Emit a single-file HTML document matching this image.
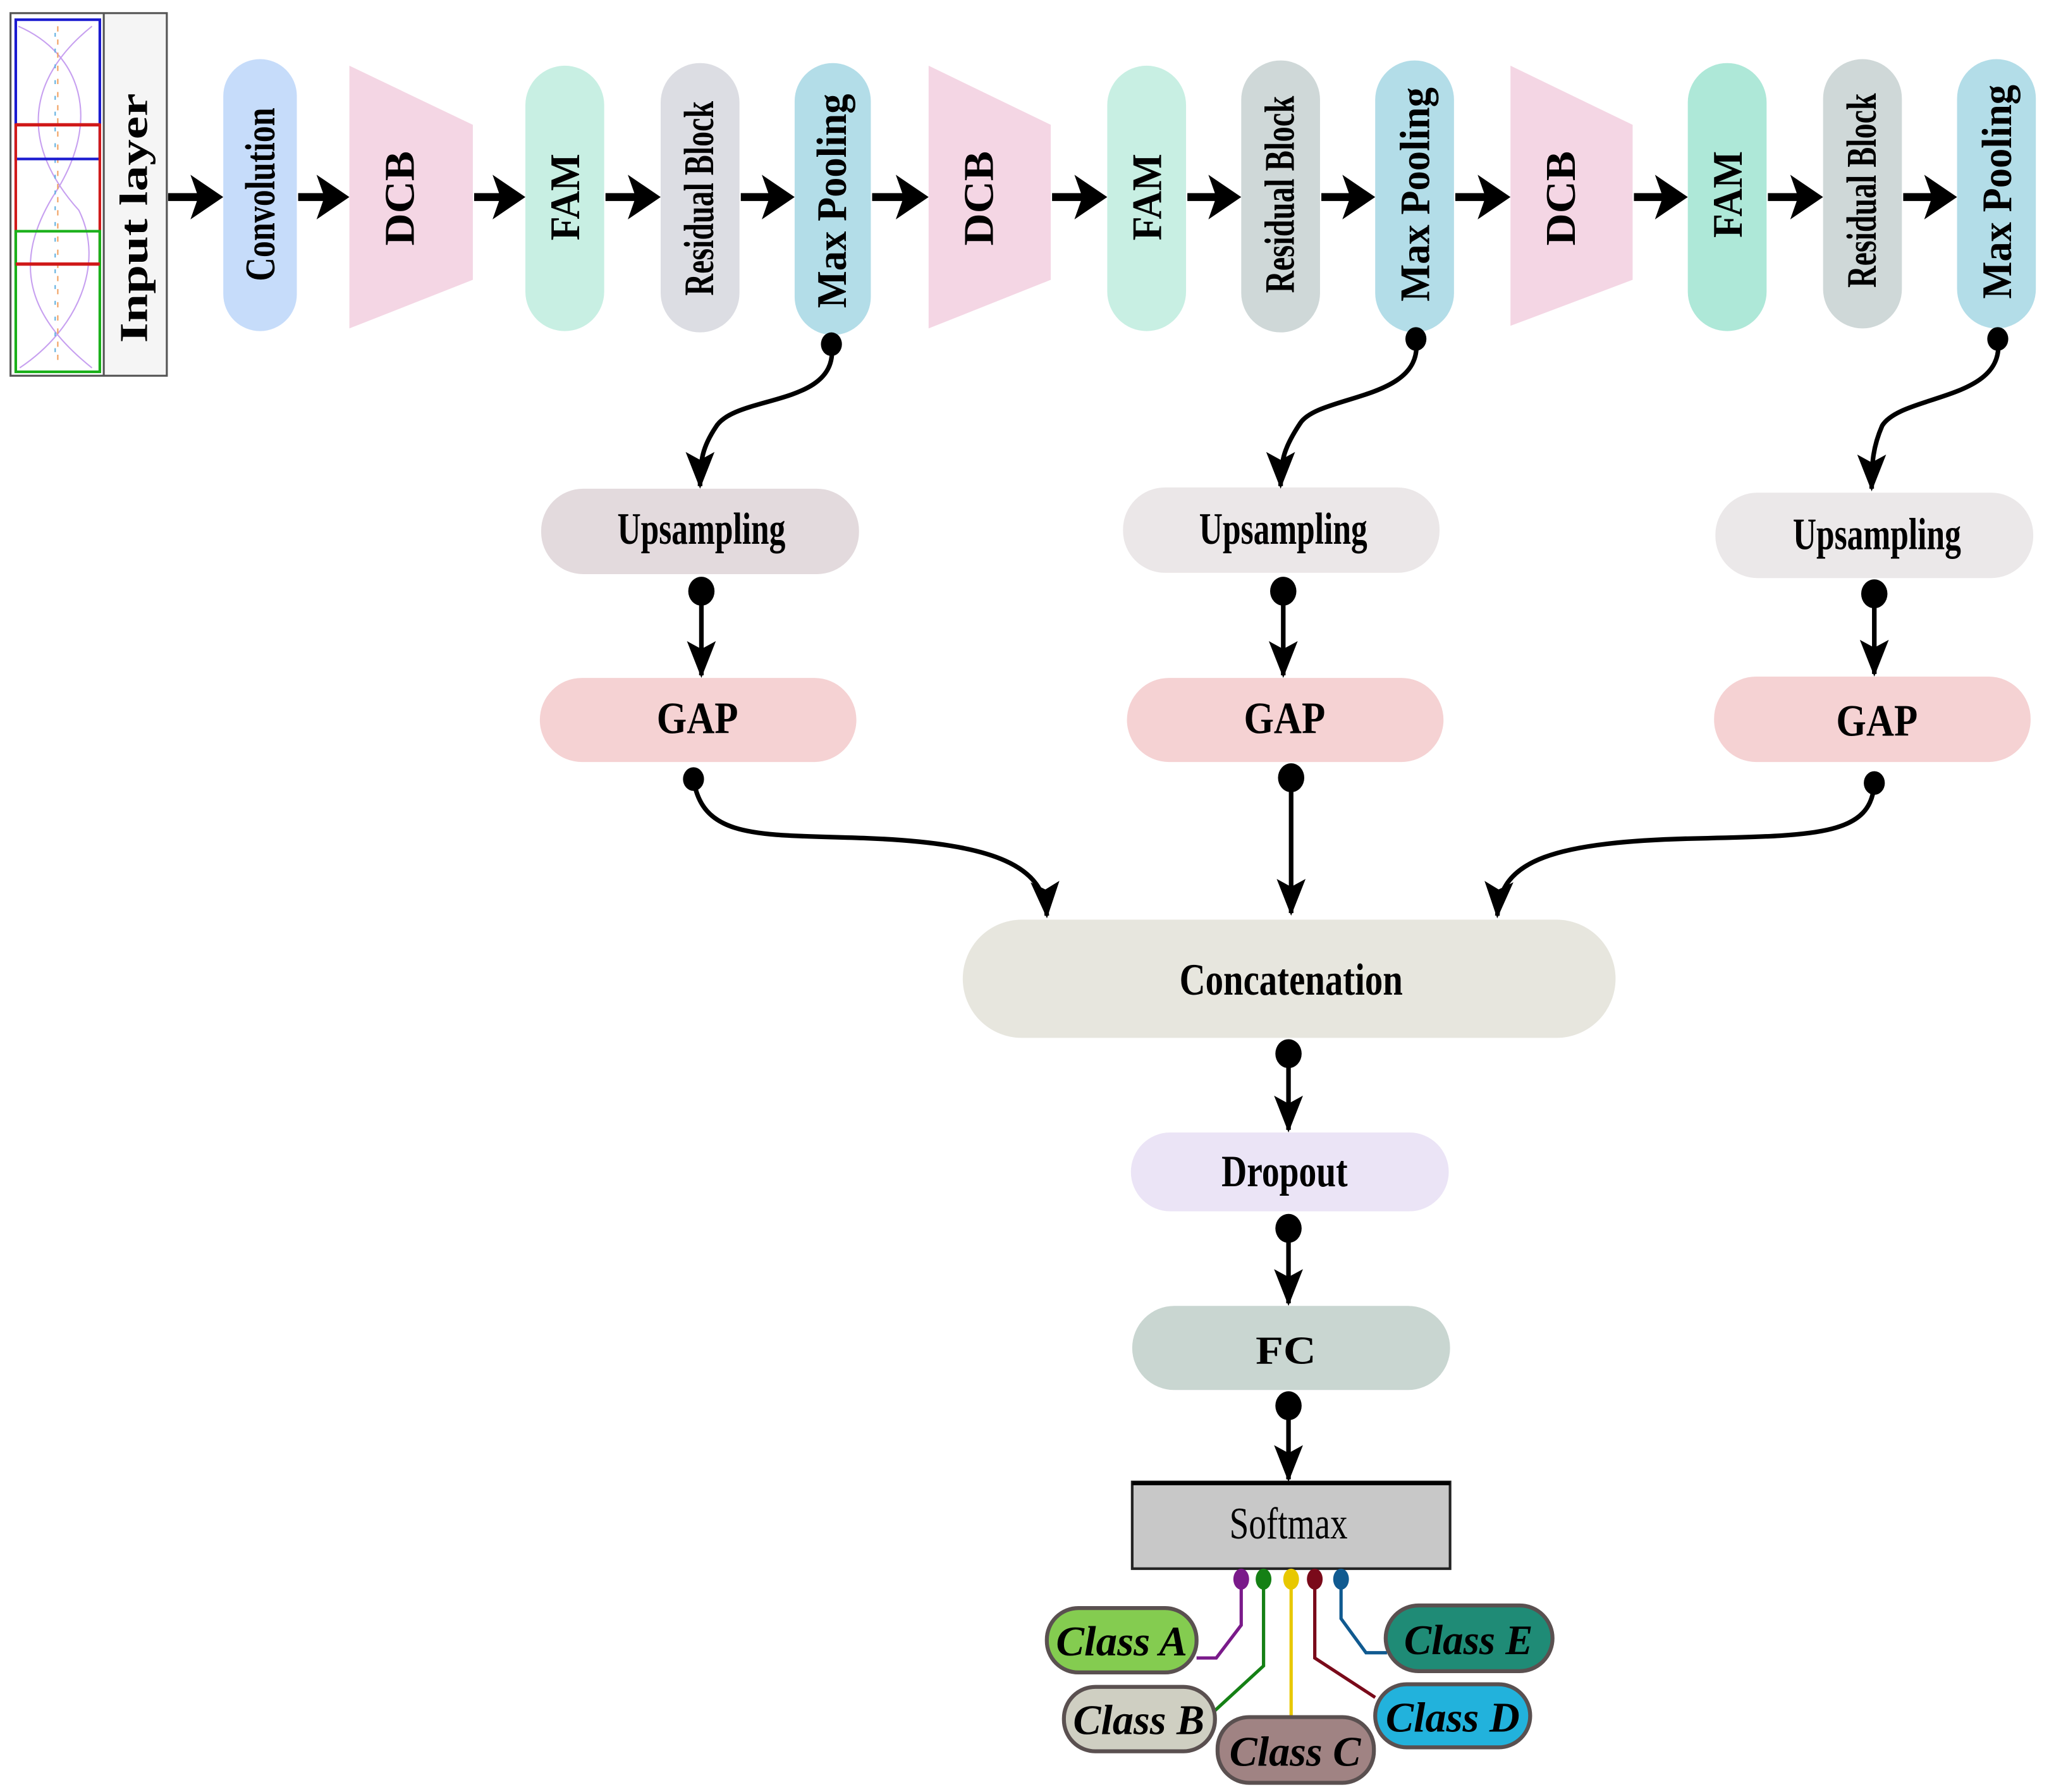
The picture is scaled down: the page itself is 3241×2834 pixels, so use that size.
<!DOCTYPE html>
<html><head><meta charset="utf-8"><style>html,body{margin:0;padding:0;background:#fff}svg{display:block}</style></head>
<body>
<svg width="3241" height="2834" viewBox="0 0 1560 1364" preserveAspectRatio="none" xmlns="http://www.w3.org/2000/svg" font-family="Liberation Serif, serif">
<defs>
<marker id="ah" markerUnits="userSpaceOnUse" markerWidth="30" markerHeight="30" viewBox="0 0 30 30" refX="28" refY="15" orient="auto">
<polygon points="30,15 2,4 8,15 2,26" fill="#000"/>
</marker>
</defs>
<rect width="1560" height="1364" fill="#fff"/>

<!-- Input layer -->
<rect x="8" y="10" width="119" height="276" fill="#f5f5f5" stroke="#555" stroke-width="1.5"/>
<rect x="9" y="11" width="70" height="274" fill="#fff"/>
<line x1="79" y1="10" x2="79" y2="286" stroke="#555" stroke-width="1.5"/>
<path d="M14,20 C60,40 80,90 40,150 C10,200 20,240 70,280" fill="none" stroke="#c7a0f0" stroke-width="1"/>
<path d="M70,20 C20,60 15,110 60,160 C80,200 60,250 15,280" fill="none" stroke="#c7a0f0" stroke-width="1"/>
<line x1="44" y1="20" x2="44" y2="280" stroke="#f0a060" stroke-width="1" stroke-dasharray="4,6"/>
<line x1="42" y1="25" x2="42" y2="275" stroke="#60b0e0" stroke-width="1" stroke-dasharray="3,9"/>
<rect x="12" y="15" width="64" height="106" fill="none" stroke="#1a1ad0" stroke-width="2"/>
<rect x="12" y="95" width="64" height="106" fill="none" stroke="#d01a1a" stroke-width="2"/>
<rect x="12" y="176" width="64" height="107" fill="none" stroke="#1ab01a" stroke-width="2"/>
<line x1="12" y1="95" x2="76" y2="95" stroke="#d01a1a" stroke-width="2.5"/>
<line x1="12" y1="201" x2="76" y2="201" stroke="#d01a1a" stroke-width="2.5"/>
<text transform="translate(112,166) rotate(-90)" font-size="30" font-weight="bold" text-anchor="middle" textLength="190" lengthAdjust="spacingAndGlyphs">Input layer</text>

<!-- top row shapes -->
<g>
<rect x="170" y="45" width="56" height="207" rx="28" fill="#c6dcfa"/>
<polygon points="266,50 360,95 360,213 266,250" fill="#f4d6e4"/>
<rect x="400" y="50" width="60" height="202" rx="30" fill="#c8efe3"/>
<rect x="503" y="48" width="60" height="205" rx="30" fill="#dcdde3"/>
<rect x="605" y="48" width="58" height="207" rx="29" fill="#b3dde8"/>
<polygon points="707,50 800,95 800,213 707,250" fill="#f4d6e4"/>
<rect x="843" y="50" width="60" height="202" rx="30" fill="#c8efe3"/>
<rect x="945" y="46" width="60" height="207" rx="30" fill="#cfd8d8"/>
<rect x="1047" y="46" width="60" height="207" rx="30" fill="#b3dde8"/>
<polygon points="1150,50 1243,95 1243,213 1150,248" fill="#f4d6e4"/>
<rect x="1285" y="48" width="60" height="204" rx="30" fill="#aee8d8"/>
<rect x="1388" y="45" width="60" height="205" rx="30" fill="#cfd8d8"/>
<rect x="1490" y="45" width="60" height="205" rx="30" fill="#b3dde8"/>
</g>
<g font-weight="bold" font-size="32" text-anchor="middle">
<text transform="translate(209,148) rotate(-90)" textLength="132" lengthAdjust="spacingAndGlyphs">Convolution</text>
<text transform="translate(315,151) rotate(-90)" textLength="72" lengthAdjust="spacingAndGlyphs">DCB</text>
<text transform="translate(441,150) rotate(-90)" textLength="66" lengthAdjust="spacingAndGlyphs">FAM</text>
<text transform="translate(543,151) rotate(-90)" textLength="148" lengthAdjust="spacingAndGlyphs">Residual Block</text>
<text transform="translate(644,153) rotate(-90)" textLength="163" lengthAdjust="spacingAndGlyphs">Max Pooling</text>
<text transform="translate(756,151) rotate(-90)" textLength="72" lengthAdjust="spacingAndGlyphs">DCB</text>
<text transform="translate(884,150) rotate(-90)" textLength="66" lengthAdjust="spacingAndGlyphs">FAM</text>
<text transform="translate(985,148) rotate(-90)" textLength="150" lengthAdjust="spacingAndGlyphs">Residual Block</text>
<text transform="translate(1088,148) rotate(-90)" textLength="163" lengthAdjust="spacingAndGlyphs">Max Pooling</text>
<text transform="translate(1199,151) rotate(-90)" textLength="72" lengthAdjust="spacingAndGlyphs">DCB</text>
<text transform="translate(1326,148) rotate(-90)" textLength="66" lengthAdjust="spacingAndGlyphs">FAM</text>
<text transform="translate(1428,145) rotate(-90)" textLength="148" lengthAdjust="spacingAndGlyphs">Residual Block</text>
<text transform="translate(1531,146) rotate(-90)" textLength="163" lengthAdjust="spacingAndGlyphs">Max Pooling</text>
</g>

<!-- top arrows -->
<g fill="#000">
<rect x="128" y="147" width="26" height="6"/><polygon points="170,150 145,133 151,150 145,167"/>
<rect x="227" y="147" width="24" height="6"/><polygon points="266,150 241,133 247,150 241,167"/>
<rect x="361" y="147" width="24" height="6"/><polygon points="400,150 375,133 381,150 375,167"/>
<rect x="461" y="147" width="27" height="6"/><polygon points="503,150 478,133 484,150 478,167"/>
<rect x="564" y="147" width="26" height="6"/><polygon points="605,150 580,133 586,150 580,167"/>
<rect x="664" y="147" width="28" height="6"/><polygon points="707,150 682,133 688,150 682,167"/>
<rect x="801" y="147" width="27" height="6"/><polygon points="843,150 818,133 824,150 818,167"/>
<rect x="904" y="147" width="26" height="6"/><polygon points="945,150 920,133 926,150 920,167"/>
<rect x="1006" y="147" width="26" height="6"/><polygon points="1047,150 1022,133 1028,150 1022,167"/>
<rect x="1108" y="147" width="27" height="6"/><polygon points="1150,150 1125,133 1131,150 1125,167"/>
<rect x="1244" y="147" width="26" height="6"/><polygon points="1285,150 1260,133 1266,150 1260,167"/>
<rect x="1346" y="147" width="27" height="6"/><polygon points="1388,150 1363,133 1369,150 1363,167"/>
<rect x="1449" y="147" width="26" height="6"/><polygon points="1490,150 1465,133 1471,150 1465,167"/>
</g>

<!-- mid nodes -->
<rect x="412" y="372" width="242" height="65" rx="32" fill="#e3dadd"/>
<rect x="855" y="371" width="241" height="65" rx="32" fill="#ebe7e8"/>
<rect x="1306" y="375" width="242" height="65" rx="32" fill="#ebe8e9"/>
<rect x="411" y="516" width="241" height="64" rx="32" fill="#f5d2d3"/>
<rect x="858" y="516" width="241" height="64" rx="32" fill="#f5d2d3"/>
<rect x="1305" y="515" width="241" height="65" rx="32" fill="#f5d2d3"/>
<rect x="733" y="700" width="497" height="90" rx="45" fill="#e7e6de"/>
<rect x="861" y="862" width="242" height="60" rx="30" fill="#ebe4f6"/>
<rect x="862" y="994" width="242" height="64" rx="32" fill="#c9d6d1"/>
<rect x="862" y="1128" width="242" height="66" fill="#c8c8c8" stroke="#222" stroke-width="2"/>
<line x1="862" y1="1129" x2="1104" y2="1129" stroke="#000" stroke-width="3"/>

<g font-size="34" text-anchor="middle" font-weight="bold">
<text x="534" y="414" textLength="128" lengthAdjust="spacingAndGlyphs">Upsampling</text>
<text x="977" y="414" textLength="128" lengthAdjust="spacingAndGlyphs">Upsampling</text>
<text x="1429" y="418" textLength="128" lengthAdjust="spacingAndGlyphs">Upsampling</text>
<text x="531" y="558" textLength="62" lengthAdjust="spacingAndGlyphs">GAP</text>
<text x="978" y="558" textLength="62" lengthAdjust="spacingAndGlyphs">GAP</text>
<text x="1429" y="560" textLength="62" lengthAdjust="spacingAndGlyphs">GAP</text>
<text x="983" y="757" textLength="170" lengthAdjust="spacingAndGlyphs">Concatenation</text>
<text x="978" y="903" textLength="96" lengthAdjust="spacingAndGlyphs">Dropout</text>
<text x="979" y="1038" font-size="30" textLength="46" lengthAdjust="spacingAndGlyphs">FC</text>
<text x="981" y="1171" font-weight="normal" textLength="90" lengthAdjust="spacingAndGlyphs">Softmax</text>
</g>

<!-- connectors -->
<g fill="none" stroke="#000" stroke-width="3.5" marker-end="url(#ah)">
<path d="M633,262 C640,310 560,300 545,325 C535,340 533,350 533,370"/>
<path d="M1078,258 C1085,305 1005,300 990,322 C978,340 975,350 975,370"/>
<path d="M1521,258 C1528,305 1448,300 1433,324 C1426,340 1425,352 1425,372"/>
<path d="M534,450 L534,514"/>
<path d="M977,450 L977,514"/>
<path d="M1427,452 L1427,513"/>
<path d="M528,593 C535,640 580,635 660,638 C760,642 795,660 797,697"/>
<path d="M983,592 L983,695"/>
<path d="M1427,596 C1425,635 1385,636 1300,638 C1180,640 1142,655 1140,697"/>
<path d="M981,802 L981,860"/>
<path d="M981,935 L981,992"/>
<path d="M981,1070 L981,1126"/>
</g>
<g fill="#000">
<ellipse cx="633" cy="262" rx="8" ry="9"/>
<ellipse cx="1078" cy="258" rx="8" ry="9"/>
<ellipse cx="1521" cy="258" rx="8" ry="9"/>
<ellipse cx="534" cy="450" rx="10" ry="11"/>
<ellipse cx="977" cy="450" rx="10" ry="11"/>
<ellipse cx="1427" cy="452" rx="10" ry="11"/>
<ellipse cx="528" cy="593" rx="8" ry="9"/>
<ellipse cx="983" cy="592" rx="10" ry="11"/>
<ellipse cx="1427" cy="596" rx="8" ry="9"/>
<ellipse cx="981" cy="802" rx="10" ry="11"/>
<ellipse cx="981" cy="935" rx="10" ry="11"/>
<ellipse cx="981" cy="1070" rx="10" ry="11"/>
</g>

<!-- class lines -->
<g fill="none" stroke-width="2.5">
<path d="M945,1202 L945,1237 L926,1262 L911,1262" stroke="#7a1a8a"/>
<path d="M962,1202 L962,1268 L925,1302" stroke="#158015"/>
<path d="M983,1202 L983,1307" stroke="#e8c800"/>
<path d="M1001,1202 L1001,1262 L1047,1292" stroke="#7a0a1a"/>
<path d="M1021,1202 L1021,1232 L1040,1258 L1056,1258" stroke="#105a90"/>
</g>
<ellipse cx="945" cy="1202" rx="6" ry="8" fill="#7a1a8a"/>
<ellipse cx="962" cy="1202" rx="6" ry="8" fill="#158015"/>
<ellipse cx="983" cy="1202" rx="6" ry="8" fill="#e8c800"/>
<ellipse cx="1001" cy="1202" rx="6" ry="8" fill="#7a0a1a"/>
<ellipse cx="1021" cy="1202" rx="6" ry="8" fill="#105a90"/>

<g stroke="#5a5050" stroke-width="3">
<rect x="797" y="1224" width="114" height="49" rx="24" fill="#84cc50"/>
<rect x="810" y="1284" width="115" height="49" rx="24" fill="#cfcfc2"/>
<rect x="927" y="1307" width="119" height="50" rx="24" fill="#a08383"/>
<rect x="1047" y="1282" width="118" height="48" rx="24" fill="#22b2dc"/>
<rect x="1055" y="1222" width="127" height="50" rx="25" fill="#1f8b76"/>
</g>
<g font-size="32" font-weight="bold" font-style="italic" text-anchor="middle">
<text x="854" y="1260" textLength="100" lengthAdjust="spacingAndGlyphs">Class A</text>
<text x="867" y="1320" textLength="100" lengthAdjust="spacingAndGlyphs">Class B</text>
<text x="986" y="1344" textLength="100" lengthAdjust="spacingAndGlyphs">Class C</text>
<text x="1106" y="1318" textLength="102" lengthAdjust="spacingAndGlyphs">Class D</text>
<text x="1118" y="1259" textLength="98" lengthAdjust="spacingAndGlyphs">Class E</text>
</g>
</svg>
</body></html>
